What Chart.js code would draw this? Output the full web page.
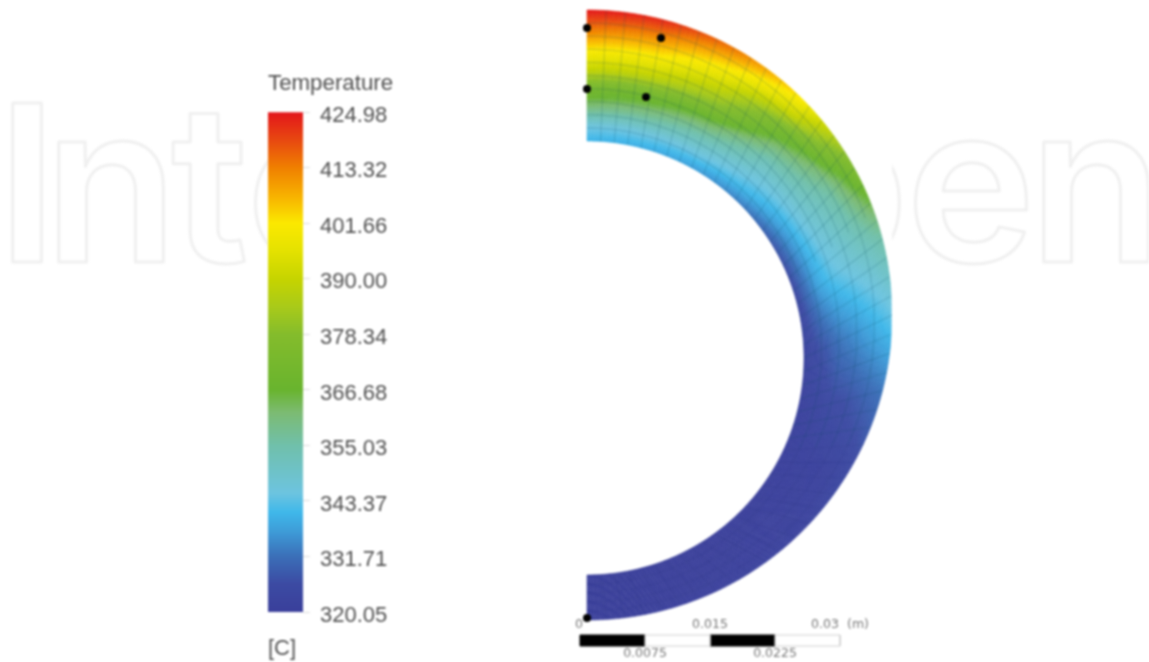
<!DOCTYPE html>
<html>
<head>
<meta charset="utf-8">
<title>Temperature</title>
<script src="https://cdn.jsdelivr.net/npm/chart.js@4"></script>
<style>
  html, body { margin: 0; padding: 0; background: #fff; overflow: hidden; }
  canvas { position: absolute; filter: blur(0.8px); }
  #contour { left: 0; top: 0; }
  #legend { left: 250px; top: 60px; }
</style>
</head>
<body>
<canvas id="contour" width="1149" height="662"></canvas>
<canvas id="legend" width="170" height="602"></canvas>
<script>
// legend
const legendTicks = [424.98, 413.32, 401.66, 390.00, 378.34, 366.68, 355.03, 343.37, 331.71, 320.05];
const colorValues = [320.05, 326, 331.71, 337, 341, 345, 355, 362, 366.68, 378.34, 384, 390, 396, 401.66, 407, 413.32, 419, 424.98];
const colorStops = ['#3a3f9b', '#3c4ba3', '#3b6fb8', '#3e9cd8', '#3fb8ea', '#6dc4e0', '#70c0ab', '#7cbb72', '#69b42e', '#84bc2c', '#a8ca1a', '#c6d400', '#e5e200', '#fbe900', '#f8b500', '#f08000', '#e84a10', '#e3151b'];

// temperature: one list per wall depth (outer wall first), one value per angle from the top
const angleDeg = [0, 15, 30, 45, 60, 75, 90, 105, 120, 135, 150, 165, 180];
const depth = [1, 0.85, 0.7, 0.55, 0.4, 0.25, 0.12, 0];
const tempOuter = [425, 423, 414, 402, 377, 356, 344, 332, 325, 322, 321, 320.5, 320.3];
const temp85 = [414, 411, 402, 390, 366, 352, 341, 330, 323, 321, 320.5, 320.3, 320.2];
const temp70 = [402, 400, 391, 372, 357, 349, 338, 328, 322, 320.8, 320.4, 320.2, 320.1];
const temp55 = [390, 388, 380, 361, 352, 346, 335, 326, 321.5, 320.6, 320.3, 320.2, 320.1];
const temp40 = [372, 370, 365, 352, 348, 343, 332, 325, 321, 320.5, 320.3, 320.1, 320.1];
const temp25 = [360, 358, 353, 346, 342, 338, 328, 323, 320.8, 320.4, 320.2, 320.1, 320.1];
const temp12 = [346, 346, 345, 341, 335, 331, 325, 322, 320.5, 320.3, 320.2, 320.1, 320.05];
const tempInner = [340, 339, 337, 333, 327, 324, 322, 321, 320.3, 320.2, 320.1, 320.05, 320.05];
const tempRows = [tempOuter, temp85, temp70, temp55, temp40, temp25, temp12, tempInner];

// probe points, metres
const probeX = [0, 0.00854, 0, 0.00681, 0];
const probeY = [0.03312, 0.03196, 0.02608, 0.02515, -0.03496];

// scale bar, metres
const scaleValues = [0, 0.0075, 0.015, 0.0225, 0.03];
const scaleTop = ['0', '0.015', '0.03'];
const scaleBottom = ['0.0075', '0.0225'];

// geometry of the part, metres
const PX_PER_M = 8666.67;
const OUTER_R = 305 / PX_PER_M, INNER_R = 217 / PX_PER_M, INNER_DROP = 43 / PX_PER_M;
const MESH_SECTORS = 50, MESH_LAYERS = 10;
const BAR_X0 = -7 / PX_PER_M;

function toRgb(hex) {
  return [1, 3, 5].map(i => parseInt(hex.slice(i, i + 2), 16));
}

function colorFor(t) {
  let i = 0;
  while (i < colorValues.length - 2 && t > colorValues[i + 1]) i++;
  const f = Math.min(1, Math.max(0, (t - colorValues[i]) / (colorValues[i + 1] - colorValues[i])));
  const a = toRgb(colorStops[i]), b = toRgb(colorStops[i + 1]);
  return 'rgb(' + a.map((v, k) => Math.round(v + (b[k] - v) * f)).join(',') + ')';
}

function wallPoint(deg, s) {
  const a = deg * Math.PI / 180;
  const r = INNER_R + (OUTER_R - INNER_R) * s;
  return { x: r * Math.sin(a), y: r * Math.cos(a) - INNER_DROP * (1 - s) };
}

// shading between the read values, the way a contour plot does
function tempAt(deg, s) {
  const c = Math.min(angleDeg.length - 2, Math.floor(deg / 15));
  const fc = (deg - angleDeg[c]) / 15;
  let d = 0;
  while (d < depth.length - 2 && s < depth[d + 1]) d++;
  const fd = (depth[d] - s) / (depth[d] - depth[d + 1]);
  const top = tempRows[d][c] + (tempRows[d][c + 1] - tempRows[d][c]) * fc;
  const bot = tempRows[d + 1][c] + (tempRows[d + 1][c + 1] - tempRows[d + 1][c]) * fc;
  return top + (bot - top) * fd;
}

const watermark = {
  id: 'watermark',
  beforeDraw(chart) {
    const ctx = chart.ctx;
    const letters = [['I', 12.7], ['n', 58], ['t', 173], ['e', 255], ['p', 786], ['e', 915], ['n', 1043]];
    ctx.save();
    ctx.beginPath();
    ctx.rect(0, 0, 268, 662);
    ctx.rect(892, 0, 257, 662);
    ctx.clip();
    ctx.font = '600 219px Inter';
    ctx.lineWidth = 3;
    ctx.lineJoin = 'round';
    ctx.strokeStyle = '#f0f0f0';
    ctx.textBaseline = 'alphabetic';
    letters.forEach(([ch, x]) => {
      const m = ctx.measureText(ch);
      ctx.strokeText(ch, x + m.actualBoundingBoxLeft, 262);
    });
    ctx.restore();
  }
};

const shading = {
  id: 'shading',
  beforeDatasetsDraw(chart) {
    const ctx = chart.ctx, xs = chart.scales.x, ys = chart.scales.y;
    const px = p => [xs.getPixelForValue(p.x), ys.getPixelForValue(p.y)];
    ctx.save();
    ctx.beginPath();
    ctx.rect(0, 0, 891.5, 662);
    ctx.clip();
    const stepA = 1, stepS = 1 / 40;
    for (let deg = 0; deg < 180; deg += stepA) {
      for (let s = 0; s < 1 - 1e-6; s += stepS) {
        const corners = [wallPoint(deg, s), wallPoint(deg + stepA, s), wallPoint(deg + stepA, s + stepS), wallPoint(deg, s + stepS)].map(px);
        const c = colorFor(tempAt(deg + stepA / 2, s + stepS / 2));
        ctx.fillStyle = c;
        ctx.strokeStyle = c;
        ctx.lineWidth = 0.6;
        ctx.beginPath();
        corners.forEach((p, i) => i ? ctx.lineTo(p[0], p[1]) : ctx.moveTo(p[0], p[1]));
        ctx.closePath();
        ctx.fill();
        ctx.stroke();
      }
    }
    ctx.restore();
  }
};

const scaleText = {
  id: 'scaleText',
  afterDatasetsDraw(chart) {
    const ctx = chart.ctx, xs = chart.scales.x;
    ctx.save();
    ctx.font = '12.5px "DejaVu Sans"';
    ctx.fillStyle = '#777';
    ctx.textAlign = 'center';
    ctx.textBaseline = 'middle';
    ctx.fillText(scaleTop[0], xs.getPixelForValue(BAR_X0 + scaleValues[0]) - 1, 625);
    ctx.fillText(scaleTop[1], xs.getPixelForValue(BAR_X0 + scaleValues[2]), 625);
    ctx.fillText(scaleTop[2], xs.getPixelForValue(BAR_X0 + scaleValues[4]) - 15, 625);
    [1, 3].forEach((k, i) => ctx.fillText(scaleBottom[i], xs.getPixelForValue(BAR_X0 + scaleValues[k]), 654));
    ctx.fillText('(m)', 858, 625);
    ctx.restore();
  }
};

// mesh: the layer lines read about twice as far apart past the side of the part, and fade out in the cold half
const STRONG = 'rgba(0,70,90,0.14)', FAINT = 'rgba(20,30,90,0.06)';
const meshLines = [];
function meshLine(data, color) {
  meshLines.push({ data: data, showLine: true, pointRadius: 0, borderWidth: 1.5, borderColor: color, tension: 0 });
}
for (let i = 1; i < MESH_SECTORS; i++) {
  const deg = 180 * i / MESH_SECTORS;
  meshLine([wallPoint(deg, 0), wallPoint(deg, 1)], deg < 115 ? STRONG : FAINT);
}
for (let j = 1; j < MESH_LAYERS; j++) {
  const warm = [], cold = [];
  const warmEnd = j % 2 ? 70 : 115;
  for (let deg = 0; deg <= warmEnd; deg += 1) warm.push(wallPoint(deg, j / MESH_LAYERS));
  for (let deg = warmEnd; deg <= 180; deg += 1) cold.push(wallPoint(deg, j / MESH_LAYERS));
  meshLine(warm, STRONG);
  if (j % 2 === 0) meshLine(cold, FAINT);
}

const barY1 = (315 - 635) / PX_PER_M, barY2 = (315 - 646) / PX_PER_M;
function barCell(k) {
  const a = BAR_X0 + scaleValues[k], b = BAR_X0 + scaleValues[k + 1];
  const black = k % 2 === 0;
  return {
    data: [{ x: a, y: barY1 }, { x: b, y: barY1 }, { x: b, y: barY2 }, { x: a, y: barY2 }, { x: a, y: barY1 }],
    showLine: true, fill: 'shape', pointRadius: 0, borderWidth: 1,
    backgroundColor: black ? '#000' : '#fff', borderColor: black ? '#000' : '#d0d0d0'
  };
}

new Chart(document.getElementById('contour'), {
  type: 'scatter',
  data: {
    datasets: [
      ...meshLines,
      ...[1, 3, 0, 2].map(barCell),
      {
        data: probeX.map((x, i) => ({ x: x, y: probeY[i] })),
        pointRadius: 4, backgroundColor: '#000', borderWidth: 0
      }
    ]
  },
  options: {
    responsive: false,
    animation: false,
    events: [],
    layout: { padding: 0, autoPadding: false },
    plugins: { legend: { display: false }, tooltip: { enabled: false } },
    scales: {
      x: { type: 'linear', display: false, min: -587 / PX_PER_M, max: 562 / PX_PER_M },
      y: { type: 'linear', display: false, min: (315 - 662) / PX_PER_M, max: 315 / PX_PER_M }
    }
  },
  plugins: [watermark, shading, scaleText]
});

new Chart(document.getElementById('legend'), {
  type: 'bar',
  data: {
    labels: [''],
    datasets: [{
      data: [[320.05, 424.98]],
      barPercentage: 1,
      categoryPercentage: 1,
      backgroundColor(ctx) {
        const area = ctx.chart.chartArea;
        if (!area) return '#000';
        const g = ctx.chart.ctx.createLinearGradient(0, area.bottom, 0, area.top);
        colorValues.forEach((v, i) => g.addColorStop((v - 320.05) / (424.98 - 320.05), colorStops[i]));
        return g;
      }
    }]
  },
  options: {
    responsive: false,
    animation: false,
    events: [],
    layout: { padding: { left: 18, right: 0, top: 0, bottom: 0 } },
    plugins: {
      legend: { display: false },
      tooltip: { enabled: false },
      title: {
        display: true, text: 'Temperature', align: 'start', color: '#505050',
        font: { family: '"Liberation Sans"', size: 22.3, weight: 'normal', lineHeight: 1.2 },
        padding: { top: 10, bottom: 15.6 }
      }
    },
    scales: {
      x: {
        grid: { display: false },
        border: { display: false },
        ticks: { display: false },
        title: {
          display: true, text: '[C]', align: 'start', color: '#505050',
          font: { family: '"Liberation Sans"', size: 22 }, padding: 0
        },
        afterFit(s) { s.height = 50; }
      },
      y: {
        position: 'right',
        min: 320.05,
        max: 424.98,
        afterBuildTicks(s) { s.ticks = legendTicks.map(v => ({ value: v })); },
        afterFit(s) { s.width = 117; },
        border: { display: false },
        grid: { drawOnChartArea: false, color: '#dcdcdc', tickLength: 7 },
        ticks: {
          padding: 10, color: '#505050', labelOffset: 3.5,
          font: { family: '"Liberation Sans"', size: 22 },
          callback: v => v.toFixed(2)
        }
      }
    }
  }
});
</script>
</body>
</html>
